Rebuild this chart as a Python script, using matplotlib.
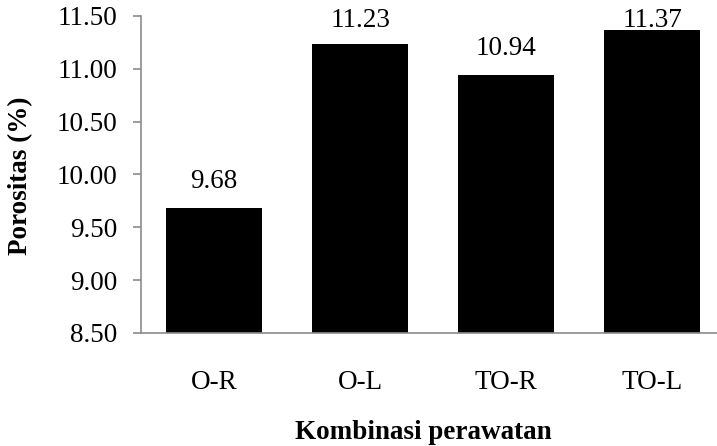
import matplotlib.pyplot as plt

plt.rcParams['font.family'] = ['Liberation Serif', 'DejaVu Serif']

###--- DATA ---###
categories = ['O-R', 'O-L', 'TO-R', 'TO-L']
porositas = [9.68, 11.23, 10.94, 11.37]
y_ticks = [8.5, 9.0, 9.5, 10.0, 10.5, 11.0, 11.5]

fs = 19.5
spine_col = '#8c8c8c'

fig = plt.figure(figsize=(7.17, 4.46), dpi=100)
# plot area runs a bit past the right edge, like the cropped original
ax = fig.add_axes([0.197, 0.2534, 0.8145, 0.7108])

xpos = range(len(categories))
ax.bar(xpos, porositas, width=0.66, color='black', zorder=2)

ax.set_xlim(-0.5, 3.5)
ax.set_ylim(8.5, 11.5)
ax.set_yticks(y_ticks)
ax.set_yticklabels(['%.2f' % t for t in y_ticks])
ax.set_xticks(list(xpos))
ax.set_xticklabels(categories)

ax.tick_params(axis='y', labelsize=fs, length=6, width=1.2, color=spine_col,
               direction='out', pad=11)
ax.tick_params(axis='x', labelsize=fs, length=0, pad=27)

for side in ['top', 'right']:
    ax.spines[side].set_visible(False)
for side in ['left', 'bottom']:
    ax.spines[side].set_color(spine_col)
    ax.spines[side].set_linewidth(1.2)

# value labels, the last one gets squeezed against the top like in Excel
for i, v in enumerate(porositas):
    ax.text(i, min(v + 0.255, 11.46), '%.2f' % v, ha='center', va='center',
            fontsize=fs, zorder=3, clip_on=False)

fig.text(0.029, 0.605, 'Porositas (%)', rotation=90, ha='center', va='center',
         fontsize=fs, fontweight='bold')
fig.text(0.59, 0.031, 'Kombinasi perawatan', ha='center', va='center',
         fontsize=fs, fontweight='bold')

fig.savefig('out.png', dpi=100)
